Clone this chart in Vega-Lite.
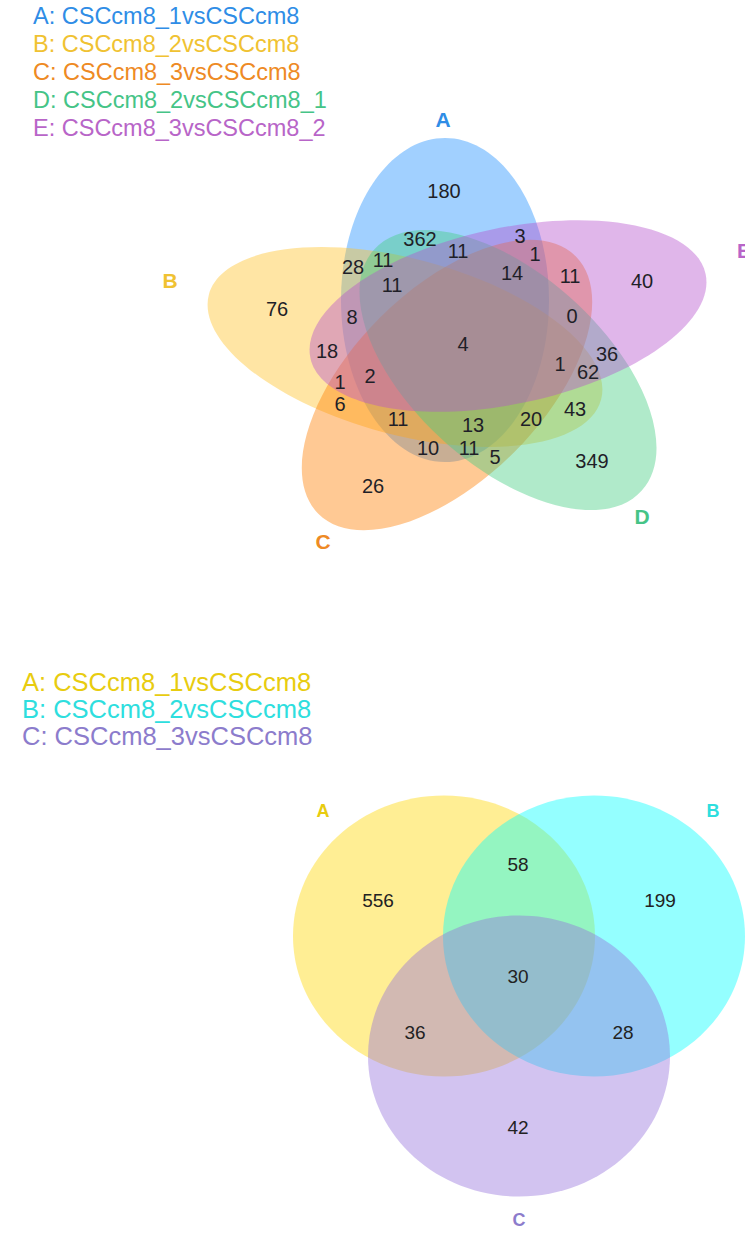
{
  "$schema": "https://vega.github.io/schema/vega-lite/v6.json",
  "width": 745,
  "height": 1234,
  "autosize": {"type": "fit", "contains": "padding"},
  "padding": 0,
  "background": "white",
  "config": {"view": {"stroke": null}},
  "datasets": {
    "sets": [
      {"series": "5A", "x": 445, "y": 300},
      {"series": "5B", "x": 405, "y": 347},
      {"series": "5C", "x": 447, "y": 385},
      {"series": "5D", "x": 508, "y": 370},
      {"series": "5E", "x": 508, "y": 316},
      {"series": "3A", "x": 444, "y": 936},
      {"series": "3B", "x": 594, "y": 936},
      {"series": "3C", "x": 519, "y": 1056}
    ],
    "counts5": [
      {"count": 180, "x": 444, "y": 192},
      {"count": 362, "x": 420, "y": 240},
      {"count": 11, "x": 458, "y": 252},
      {"count": 3, "x": 520, "y": 237},
      {"count": 1, "x": 535, "y": 255},
      {"count": 14, "x": 512, "y": 274},
      {"count": 11, "x": 570, "y": 277},
      {"count": 40, "x": 642, "y": 282},
      {"count": 28, "x": 353, "y": 268},
      {"count": 11, "x": 383, "y": 261},
      {"count": 11, "x": 392, "y": 286},
      {"count": 76, "x": 277, "y": 310},
      {"count": 8, "x": 352, "y": 318},
      {"count": 4, "x": 463, "y": 345},
      {"count": 0, "x": 572, "y": 317},
      {"count": 36, "x": 607, "y": 355},
      {"count": 62, "x": 588, "y": 373},
      {"count": 1, "x": 560, "y": 365},
      {"count": 18, "x": 327, "y": 352},
      {"count": 1, "x": 340, "y": 383},
      {"count": 2, "x": 370, "y": 377},
      {"count": 6, "x": 340, "y": 405},
      {"count": 11, "x": 398, "y": 420},
      {"count": 13, "x": 473, "y": 426},
      {"count": 20, "x": 531, "y": 420},
      {"count": 43, "x": 575, "y": 410},
      {"count": 10, "x": 428, "y": 449},
      {"count": 11, "x": 469, "y": 449},
      {"count": 5, "x": 495, "y": 458},
      {"count": 349, "x": 592, "y": 462},
      {"count": 26, "x": 373, "y": 487}
    ],
    "counts3": [
      {"count": 556, "x": 378, "y": 901},
      {"count": 58, "x": 518, "y": 865},
      {"count": 199, "x": 660, "y": 901},
      {"count": 30, "x": 518, "y": 977},
      {"count": 36, "x": 415, "y": 1033},
      {"count": 28, "x": 623, "y": 1033},
      {"count": 42, "x": 518, "y": 1128}
    ],
    "letters5": [
      {"series": "5A", "letter": "A", "x": 443, "y": 121},
      {"series": "5B", "letter": "B", "x": 170, "y": 282},
      {"series": "5C", "letter": "C", "x": 323, "y": 543},
      {"series": "5D", "letter": "D", "x": 642, "y": 518},
      {"series": "5E", "letter": "E", "x": 744, "y": 252}
    ],
    "letters3": [
      {"series": "3A", "letter": "A", "x": 323, "y": 812},
      {"series": "3B", "letter": "B", "x": 713, "y": 812},
      {"series": "3C", "letter": "C", "x": 519, "y": 1221}
    ],
    "legend5": [
      {"series": "5A", "label": "A: CSCcm8_1vsCSCcm8", "x": 33, "y": 17},
      {"series": "5B", "label": "B: CSCcm8_2vsCSCcm8", "x": 33, "y": 45},
      {"series": "5C", "label": "C: CSCcm8_3vsCSCcm8", "x": 33, "y": 73},
      {"series": "5D", "label": "D: CSCcm8_2vsCSCcm8_1", "x": 33, "y": 101},
      {"series": "5E", "label": "E: CSCcm8_3vsCSCcm8_2", "x": 33, "y": 129}
    ],
    "legend3": [
      {"series": "3A", "label": "A: CSCcm8_1vsCSCcm8", "x": 22, "y": 683},
      {"series": "3B", "label": "B: CSCcm8_2vsCSCcm8", "x": 22, "y": 710},
      {"series": "3C", "label": "C: CSCcm8_3vsCSCcm8", "x": 22, "y": 737}
    ]
  },
  "encoding": {
    "x": {"field": "x", "type": "quantitative", "axis": null,
          "scale": {"domain": [0, 745], "nice": false, "zero": false}},
    "y": {"field": "y", "type": "quantitative", "axis": null,
          "scale": {"domain": [0, 1234], "nice": false, "zero": false, "reverse": true}}
  },
  "layer": [
    {
      "data": {"name": "sets"},
      "mark": {"type": "point", "filled": true, "size": 4, "opacity": 1,
               "fillOpacity": 0.42, "strokeWidth": 0, "clip": true},
      "encoding": {
        "color": {"field": "series", "type": "nominal", "legend": null,
          "scale": {"domain": ["5A", "5B", "5C", "5D", "5E", "3A", "3B", "3C"],
                    "range": ["#1E90FF", "#FFC125", "#FF7F00", "#43CD80", "#B452CD", "#FFD700", "#00FFFF", "#9370DB"]}},
        "shape": {"field": "series", "type": "nominal", "legend": null,
          "scale": {"domain": ["5A", "5B", "5C", "5D", "5E", "3A", "3B", "3C"],
                    "range": [
                      "M0,-162 A104,162 0 1,0 0,162 A104,162 0 1,0 0,-162 Z",
                      "M196.1,52.5 A203,88 15 1,0 -196.1,-52.5 A203,88 15 1,0 196.1,52.5 Z",
                      "M128.7,-128.7 A182,95 -45 1,0 -128.7,128.7 A182,95 -45 1,0 128.7,-128.7 Z",
                      "M133.8,120.4 A180,95 42 1,0 -133.8,-120.4 A180,95 42 1,0 133.8,120.4 Z",
                      "M197.6,-42 A202,88 -12 1,0 -197.6,42 A202,88 -12 1,0 197.6,-42 Z",
                      "M-151,0 A151,140.5 0 1,0 151,0 A151,140.5 0 1,0 -151,0 Z",
                      "M-151,0 A151,140.5 0 1,0 151,0 A151,140.5 0 1,0 -151,0 Z",
                      "M-151,0 A151,140.5 0 1,0 151,0 A151,140.5 0 1,0 -151,0 Z"
                    ]}}
      }
    },
    {
      "data": {"name": "counts5"},
      "mark": {"type": "text", "font": "Liberation Sans", "fontSize": 20,
               "fill": "#1f1f28", "align": "center", "baseline": "middle"},
      "encoding": {"text": {"field": "count", "type": "quantitative"}}
    },
    {
      "data": {"name": "counts3"},
      "mark": {"type": "text", "font": "Liberation Sans", "fontSize": 19,
               "fill": "#222222", "align": "center", "baseline": "middle"},
      "encoding": {"text": {"field": "count", "type": "quantitative"}}
    },
    {
      "data": {"name": "letters5"},
      "mark": {"type": "text", "font": "Liberation Sans", "fontSize": 21, "fontWeight": "bold",
               "align": "center", "baseline": "middle", "clip": true},
      "encoding": {
        "text": {"field": "letter", "type": "nominal"},
        "fill": {"field": "series", "type": "nominal", "legend": null,
          "scale": {"domain": ["5A", "5B", "5C", "5D", "5E", "3A", "3B", "3C"],
                    "range": ["#2f8de6", "#f0c232", "#ee8a24", "#45c487", "#b865c8", "#e8cc10", "#2edede", "#8c7ccc"]}}
      }
    },
    {
      "data": {"name": "letters3"},
      "mark": {"type": "text", "font": "Liberation Sans", "fontSize": 18, "fontWeight": "bold",
               "align": "center", "baseline": "middle"},
      "encoding": {
        "text": {"field": "letter", "type": "nominal"},
        "fill": {"field": "series", "type": "nominal", "legend": null}
      }
    },
    {
      "data": {"name": "legend5"},
      "mark": {"type": "text", "font": "Liberation Sans", "fontSize": 23.5,
               "align": "left", "baseline": "middle"},
      "encoding": {
        "text": {"field": "label", "type": "nominal"},
        "fill": {"field": "series", "type": "nominal", "legend": null}
      }
    },
    {
      "data": {"name": "legend3"},
      "mark": {"type": "text", "font": "Liberation Sans", "fontSize": 25.5,
               "align": "left", "baseline": "middle"},
      "encoding": {
        "text": {"field": "label", "type": "nominal"},
        "fill": {"field": "series", "type": "nominal", "legend": null}
      }
    }
  ]
}
